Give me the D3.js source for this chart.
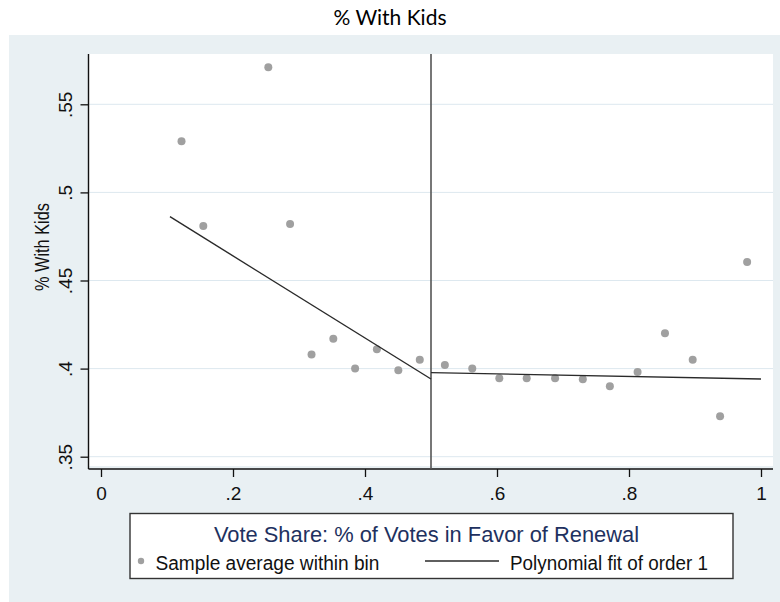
<!DOCTYPE html>
<html>
<head>
<meta charset="utf-8">
<script src="https://cdn.jsdelivr.net/npm/d3@7"></script>
<style>
  html, body { margin: 0; padding: 0; background: #ffffff; }
  svg { display: block; }
</style>
</head>
<body>
<svg id="chart" width="780" height="602"></svg>
<script>
// Binned sample averages: left and right of the 0.5 cutoff
const binX = [0.122, 0.155, 0.2535, 0.2865, 0.319, 0.352, 0.385, 0.418, 0.4505, 0.483,
              0.521, 0.5625, 0.6035, 0.645, 0.688, 0.730, 0.771, 0.813, 0.8545, 0.8965, 0.938, 0.979];
const binY = [0.529, 0.481, 0.571, 0.482, 0.408, 0.417, 0.400, 0.411, 0.399, 0.405,
              0.402, 0.400, 0.3945, 0.3945, 0.3945, 0.394, 0.390, 0.398, 0.420, 0.405, 0.373, 0.4605];

// Linear fits on each side of the cutoff (endpoints)
const fitLeftX = [0.1045, 0.5];
const fitLeftY = [0.4862, 0.3941];
const fitRightX = [0.5, 1.0];
const fitRightY = [0.3977, 0.3941];

const cutoff = 0.5;

const xTicks = [0, 0.2, 0.4, 0.6, 0.8, 1];
const yTicks = [0.35, 0.4, 0.45, 0.5, 0.55];

const chartTitle = "% With Kids";
const yTitle = "% With Kids";
const legendTitle = "Vote Share: % of Votes in Favor of Renewal";
const legendPoints = "Sample average within bin";
const legendLine = "Polynomial fit of order 1";

const svg = d3.select("#chart");
const W = 780, H = 602;
const axisFont = "'Liberation Sans', Arial, Helvetica, sans-serif";

// Layout
const panel = { x: 9, y: 35, w: W - 9, h: H - 35 };
const plot = { left: 88.5, right: 773, top: 54, bottom: 466 };
const xAxisY = 469;

const x = d3.scaleLinear().domain([0, 1]).range([101, 761]);
const y = d3.scaleLinear().domain([0.35, 0.55]).range([456.7, 104.3]);

const fmt = d => (d === 0 ? "0" : d === 1 ? "1" : String(+d.toFixed(2)).replace(/^0/, ""));

// Title
svg.append("text")
  .attr("x", W / 2).attr("y", 25)
  .attr("text-anchor", "middle")
  .attr("font-family", "Lato, 'Open Sans', sans-serif")
  .attr("font-size", 21)
  .attr("fill", "#000")
  .text(chartTitle);

// Graph background panel
svg.append("rect")
  .attr("x", panel.x).attr("y", panel.y)
  .attr("width", panel.w).attr("height", panel.h)
  .attr("fill", "#e9f0f3");

// Plot region
svg.append("rect")
  .attr("x", plot.left).attr("y", plot.top)
  .attr("width", plot.right - plot.left).attr("height", plot.bottom - plot.top)
  .attr("fill", "#ffffff");

// Horizontal grid lines
svg.append("g").selectAll("line").data(yTicks).join("line")
  .attr("x1", plot.left).attr("x2", plot.right)
  .attr("y1", d => y(d)).attr("y2", d => y(d))
  .attr("stroke", "#dde8ef").attr("stroke-width", 1);

// Y axis
const gy = svg.append("g")
  .attr("transform", `translate(${plot.left},0)`)
  .call(d3.axisLeft(y).tickValues(yTicks).tickFormat(fmt).tickSize(8).tickSizeOuter(0));
gy.select(".domain").remove();
gy.selectAll(".tick line").attr("stroke", "#111").attr("stroke-width", 1.3);
gy.selectAll(".tick text")
  .attr("x", null).attr("dy", null)
  .attr("text-anchor", "middle")
  .attr("transform", "translate(-17,0) rotate(-90)")
  .attr("font-family", axisFont).attr("font-size", 19).attr("fill", "#111");

svg.append("line")
  .attr("x1", plot.left).attr("x2", plot.left)
  .attr("y1", plot.top).attr("y2", xAxisY)
  .attr("stroke", "#111").attr("stroke-width", 1.4);

// X axis
const gx = svg.append("g")
  .attr("transform", `translate(0,${xAxisY})`)
  .call(d3.axisBottom(x).tickValues(xTicks).tickFormat(fmt).tickSize(8).tickSizeOuter(0));
gx.select(".domain").remove();
gx.selectAll(".tick line").attr("stroke", "#111").attr("stroke-width", 1.3);
gx.selectAll(".tick text")
  .attr("y", 31).attr("dy", null)
  .attr("font-family", axisFont).attr("font-size", 19).attr("fill", "#111");

svg.append("line")
  .attr("x1", plot.left).attr("x2", plot.right)
  .attr("y1", xAxisY).attr("y2", xAxisY)
  .attr("stroke", "#111").attr("stroke-width", 1.4);

// Y axis title
svg.append("text")
  .attr("transform", "translate(49,247) rotate(-90)")
  .attr("text-anchor", "middle")
  .attr("textLength", 88).attr("lengthAdjust", "spacingAndGlyphs")
  .attr("font-family", axisFont).attr("font-size", 20).attr("fill", "#111")
  .text(yTitle);

// Cutoff line
svg.append("line")
  .attr("x1", x(cutoff)).attr("x2", x(cutoff))
  .attr("y1", plot.top).attr("y2", xAxisY)
  .attr("stroke", "#555").attr("stroke-width", 1.6);

// Bin averages
svg.append("g").selectAll("circle").data(binX.map((v, i) => [v, binY[i]])).join("circle")
  .attr("cx", d => x(d[0])).attr("cy", d => y(d[1]))
  .attr("r", 4)
  .attr("fill", "#a0a0a0");

// Fitted lines
const line = d3.line().x(d => x(d[0])).y(d => y(d[1]));
[[fitLeftX, fitLeftY], [fitRightX, fitRightY]].forEach(([xs, ys]) => {
  svg.append("path")
    .datum(xs.map((v, i) => [v, ys[i]]))
    .attr("d", line)
    .attr("fill", "none")
    .attr("stroke", "#2a2a2a")
    .attr("stroke-width", 1.4);
});

// Legend
const lg = svg.append("g");
lg.append("rect")
  .attr("x", 130).attr("y", 513.5)
  .attr("width", 603).attr("height", 65)
  .attr("fill", "#ffffff")
  .attr("stroke", "#333").attr("stroke-width", 1.4);
lg.append("text")
  .attr("x", 214).attr("y", 541.5)
  .attr("textLength", 425).attr("lengthAdjust", "spacingAndGlyphs")
  .attr("font-family", axisFont).attr("font-size", 22).attr("fill", "#1e3160")
  .text(legendTitle);
lg.append("circle")
  .attr("cx", 141).attr("cy", 561).attr("r", 3.2)
  .attr("fill", "#a0a0a0");
lg.append("text")
  .attr("x", 155.5).attr("y", 570)
  .attr("textLength", 224).attr("lengthAdjust", "spacingAndGlyphs")
  .attr("font-family", axisFont).attr("font-size", 20).attr("fill", "#111")
  .text(legendPoints);
lg.append("line")
  .attr("x1", 425).attr("x2", 499)
  .attr("y1", 561).attr("y2", 561)
  .attr("stroke", "#2a2a2a").attr("stroke-width", 1.4);
lg.append("text")
  .attr("x", 510).attr("y", 570)
  .attr("textLength", 198).attr("lengthAdjust", "spacingAndGlyphs")
  .attr("font-family", axisFont).attr("font-size", 20).attr("fill", "#111")
  .text(legendLine);
</script>
</body>
</html>
